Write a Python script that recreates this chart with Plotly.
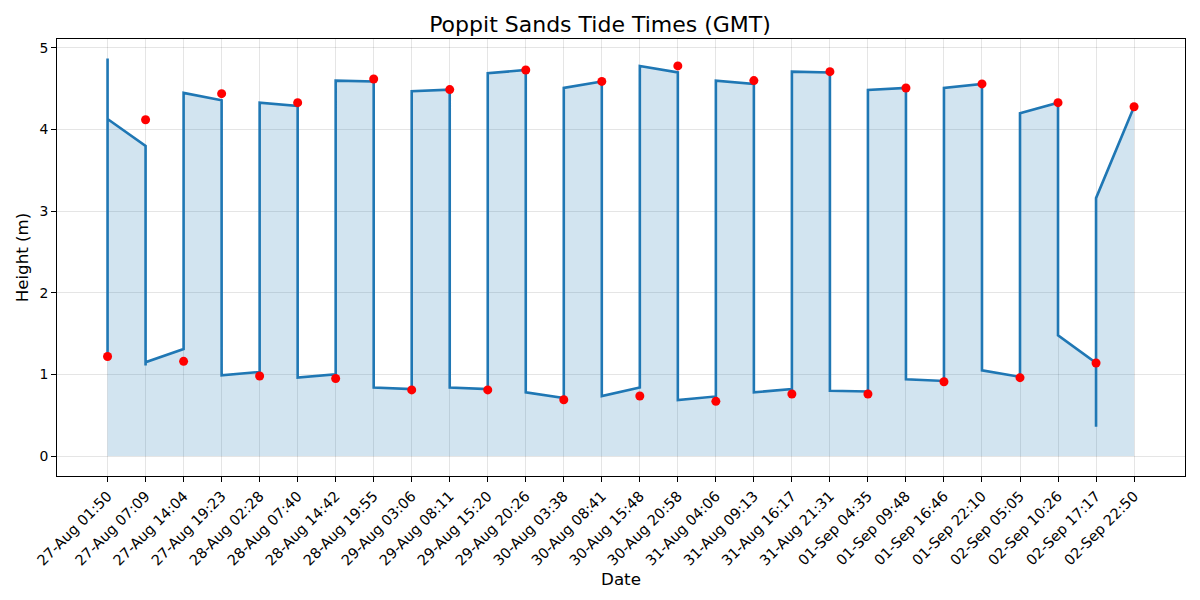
import plotly.graph_objects as go

# tide times (categorical x axis)
times = [
    "27-Aug 01:50", "27-Aug 07:09", "27-Aug 14:04", "27-Aug 19:23",
    "28-Aug 02:28", "28-Aug 07:40", "28-Aug 14:42", "28-Aug 19:55",
    "29-Aug 03:06", "29-Aug 08:11", "29-Aug 15:20", "29-Aug 20:26",
    "30-Aug 03:38", "30-Aug 08:41", "30-Aug 15:48", "30-Aug 20:58",
    "31-Aug 04:06", "31-Aug 09:13", "31-Aug 16:17", "31-Aug 21:31",
    "01-Sep 04:35", "01-Sep 09:48", "01-Sep 16:46", "01-Sep 22:10",
    "02-Sep 05:05", "02-Sep 10:26", "02-Sep 17:17", "02-Sep 22:50",
]

# tide heights at each time (red markers)
tide_heights = [
    1.22, 4.12, 1.16, 4.44, 0.98, 4.33, 0.95, 4.62,
    0.81, 4.49, 0.81, 4.73, 0.69, 4.59, 0.735, 4.78,
    0.67, 4.60, 0.76, 4.71, 0.76, 4.51, 0.91, 4.56,
    0.96, 4.33, 1.14, 4.28,
]

# curve points: index into times + height
curve_idx = [
    0, 0, 0,
    1, 1, 1,
    2, 2,
    3, 3,
    4, 4,
    5, 5,
    6, 6,
    7, 7,
    8, 8,
    9, 9,
    10, 10,
    11, 11,
    12, 12,
    13, 13,
    14, 14,
    15, 15,
    16, 16,
    17, 17,
    18, 18,
    19, 19,
    20, 20,
    21, 21,
    22, 22,
    23, 23,
    24, 24,
    25, 25,
    26, 26, 26,
    27,
]
curve_heights = [
    4.87, 1.22, 4.13,
    3.80, 1.11, 1.15,
    1.31, 4.45,
    4.36, 0.99,
    1.03, 4.33,
    4.29, 0.96,
    1.00, 4.60,
    4.59, 0.84,
    0.82, 4.47,
    4.49, 0.84,
    0.82, 4.69,
    4.73, 0.78,
    0.71, 4.51,
    4.59, 0.735,
    0.84, 4.78,
    4.70, 0.686,
    0.73, 4.60,
    4.56, 0.78,
    0.82, 4.71,
    4.70, 0.80,
    0.79, 4.485,
    4.51, 0.94,
    0.92, 4.51,
    4.56, 1.05,
    0.97, 4.20,
    4.33, 1.48,
    1.14, 0.36, 3.16,
    4.28,
]
curve_x = [times[i] for i in curve_idx]

fig = go.Figure()
fig.add_trace(go.Scatter(
    x=curve_x, y=curve_heights, mode="lines",
    line=dict(color="#1f77b4", width=2.6),
    fill="tozeroy", fillcolor="rgba(31,119,180,0.2)",
    showlegend=False, hoverinfo="skip",
))
fig.add_trace(go.Scatter(
    x=times, y=tide_heights, mode="markers",
    marker=dict(color="red", size=9),
    showlegend=False,
))

axis_common = dict(
    showline=True, linecolor="black", linewidth=1, mirror=True,
    ticks="outside", ticklen=5, tickcolor="black",
    showgrid=True, gridcolor="rgba(0,0,0,0.1)", gridwidth=1,
    zeroline=False, automargin=False,
)

fig.update_xaxes(
    type="category", categoryorder="array", categoryarray=times,
    range=[-1.33, 28.34], tickangle=-45,
    tickfont=dict(family="DejaVu Sans", size=14.5, color="black"),
    title=dict(text="Date", font=dict(family="DejaVu Sans", size=16.7, color="black"), standoff=0),
    **axis_common,
)
fig.update_yaxes(
    range=[-0.245, 5.11], dtick=1,
    tickfont=dict(family="DejaVu Sans", size=13.9, color="black"),
    title=dict(text="Height (m)", font=dict(family="DejaVu Sans", size=16.7, color="black"), standoff=6),
    **axis_common,
)

fig.update_layout(
    width=1200, height=600,
    margin=dict(l=57, r=15, t=39, b=124),
    plot_bgcolor="white", paper_bgcolor="white",
    title=dict(text="Poppit Sands Tide Times (GMT)", x=0.5, xanchor="center",
               y=0.96, yanchor="middle", yref="container",
               font=dict(family="DejaVu Sans", size=22, color="black")),
)

# page body has a default margin; drop it so the figure sits at 0,0
fig.write_html("out.html", config={"displayModeBar": False},
               post_script="document.body.style.margin='0';document.body.style.overflow='hidden';")
